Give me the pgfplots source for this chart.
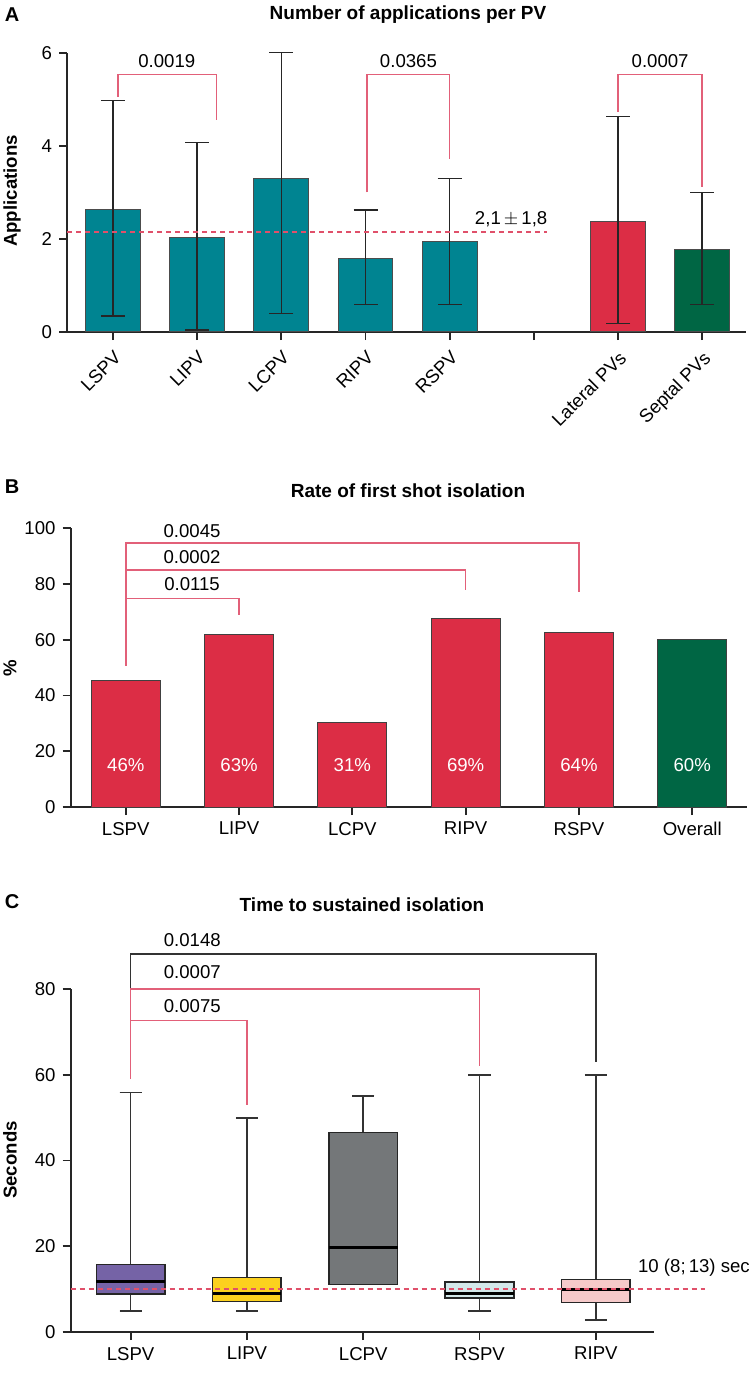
\documentclass[border=0pt]{standalone}
\usepackage{fontspec}
\setmainfont{Liberation Sans}
\usepackage{pgfplots}
\pgfplotsset{compat=1.18}
\usepgfplotslibrary{statistics}
\definecolor{cteal}{HTML}{008491}
\definecolor{cred}{HTML}{DC2D45}
\definecolor{cgreen}{HTML}{006644}
\definecolor{brk}{HTML}{E26079}
\definecolor{dsh}{HTML}{E0506A}
\definecolor{cpurple}{HTML}{7563A6}
\definecolor{cyellow}{HTML}{FCD11E}
\definecolor{cgray}{HTML}{747779}
\definecolor{cblue}{HTML}{D3E8EA}
\definecolor{cpink}{HTML}{F6CACA}
\newcommand{\fs}{\fontsize{9.3}{11}\selectfont}
\begin{document}
\begin{tikzpicture}
\useasboundingbox (0pt,0pt) rectangle (374.5pt,-687pt);
\pgfplotsset{
  panel/.style={scale only axis, axis x line=bottom, axis y line=left,
    axis line style={-, line width=0.9pt, black!85},
    every tick/.style={line width=0.9pt, black!85},
    tick align=outside, major tick length=4pt,
    ticklabel style={font=\fs},
    /pgf/number format/assume math mode=true,
    clip=false, anchor=south west},
  ebar/.style={error bars/.cd, y dir=both, y explicit,
    error bar style={line width=0.75pt, black!85},
    error mark options={rotate=90, mark size=6pt, line width=0.75pt, black!85}},
  bk/.style={brk, line width=0.75pt, no marks, sharp plot},
}
% ---------- Panel A ----------
\node[font=\bfseries\fontsize{10}{12}\selectfont] at (6pt,-7.5pt) {A};
\node[font=\bfseries\fontsize{9.5}{11}\selectfont] at (204pt,-7.5pt) {Number of applications per PV};
\node[font=\bfseries\fs, rotate=90] at (6pt,-95.5pt) {Applications};
\begin{axis}[panel, at={(33.5pt,-166pt)}, width=339.5pt, height=139.5pt,
  xmin=-0.546, xmax=7.52, ymin=0, ymax=6, ytick={0,2,4,6},
  xtick={0,...,7}, xticklabels={LSPV,LIPV,LCPV,RIPV,RSPV,,Lateral PVs,Septal PVs},
  x tick label style={rotate=45, anchor=north east}]
\addplot[ybar, bar width=0.65, bar shift=0pt, fill=cteal, draw=black!70, line width=0.5pt, ebar]
  coordinates {(0,2.64) += (0,2.34) -= (0,2.30)
               (1,2.04) += (0,2.03) -= (0,2.00)
               (2,3.30) += (0,2.71) -= (0,2.90)
               (3,1.59) += (0,1.03) -= (0,1.00)
               (4,1.95) += (0,1.35) -= (0,1.36)};
\addplot[ybar, bar width=0.65, bar shift=0pt, fill=cred, draw=black!70, line width=0.5pt, ebar]
  coordinates {(6,2.37) += (0,2.26) -= (0,2.19)};
\addplot[ybar, bar width=0.65, bar shift=0pt, fill=cgreen, draw=black!70, line width=0.5pt, ebar]
  coordinates {(7,1.78) += (0,1.22) -= (0,1.19)};
\addplot[dsh, line width=0.75pt, dash pattern=on 2.5pt off 2pt, no marks, sharp plot]
  coordinates {(-0.546,2.15) (5.16,2.15)};
\addplot[bk] coordinates {(0.06,5.06) (0.06,5.54) (1.23,5.54) (1.23,4.56)};
\addplot[bk] coordinates {(3.02,3.0) (3.02,5.54) (4.0,5.54) (4.0,3.71)};
\addplot[bk] coordinates {(6.0,4.74) (6.0,5.54) (7.0,5.54) (7.0,3.12)};
\node[font=\fs] at (axis cs:0.64,5.83) {0.0019};
\node[font=\fs] at (axis cs:3.51,5.83) {0.0365};
\node[font=\fs] at (axis cs:6.5,5.83) {0.0007};
\node[font=\fs] at (axis cs:4.73,2.42) {2,1\,$\pm$\,1,8};
\end{axis}
% ---------- Panel B ----------
\node[font=\bfseries\fontsize{10}{12}\selectfont] at (6pt,-243.5pt) {B};
\node[font=\bfseries\fontsize{9.5}{11}\selectfont] at (204pt,-245.5pt) {Rate of first shot isolation};
\node[font=\bfseries\fs, rotate=90] at (5pt,-334pt) {\%};
\begin{axis}[panel, at={(35.3pt,-403.5pt)}, width=338pt, height=139.5pt,
  xmin=-0.487, xmax=5.48, ymin=0, ymax=100, ytick={0,20,...,100},
  xtick={0,...,5}, xticklabels={LSPV,LIPV,LCPV,RIPV,RSPV,Overall}]
\addplot[ybar, bar width=0.61, bar shift=0pt, fill=cred, draw=black!75, line width=0.5pt]
  coordinates {(0,45.3) (1,62.0) (2,30.2) (3,67.4) (4,62.6)};
\addplot[ybar, bar width=0.61, bar shift=0pt, fill=cgreen, draw=black!75, line width=0.5pt]
  coordinates {(5,59.9)};
\addplot[bk] coordinates {(0,50.7) (0,94.7) (4,94.7) (4,77.0)};
\addplot[bk] coordinates {(0,84.9) (3,84.9) (3,77.8)};
\addplot[bk] coordinates {(0,74.7) (1,74.7) (1,68.9)};
\node[font=\fs] at (axis cs:0.585,98.8) {0.0045};
\node[font=\fs] at (axis cs:0.585,89.5) {0.0002};
\node[font=\fs] at (axis cs:0.585,80.0) {0.0115};
\node[font=\fs, text=white] at (axis cs:0,15.2) {46\%};
\node[font=\fs, text=white] at (axis cs:1,15.2) {63\%};
\node[font=\fs, text=white] at (axis cs:2,15.2) {31\%};
\node[font=\fs, text=white] at (axis cs:3,15.2) {69\%};
\node[font=\fs, text=white] at (axis cs:4,15.2) {64\%};
\node[font=\fs, text=white] at (axis cs:5,15.2) {60\%};
\end{axis}
% ---------- Panel C ----------
\node[font=\bfseries\fontsize{10}{12}\selectfont] at (6pt,-451pt) {C};
\node[font=\bfseries\fontsize{9.5}{11}\selectfont] at (181pt,-452.5pt) {Time to sustained isolation};
\node[font=\bfseries\fs, rotate=90] at (5pt,-580pt) {Seconds};
\begin{axis}[panel, at={(35.3pt,-666pt)}, width=291.7pt, height=171.5pt,
  xmin=-0.516, xmax=4.5, ymin=0, ymax=80, ytick={0,20,...,80},
  xtick={0,...,4}, xticklabels={LSPV,LIPV,LCPV,RSPV,RIPV},
  boxplot/draw direction=y,
  boxplot/box extend=0.59, boxplot/whisker extend=0.19,
  boxplot/every median/.style={line width=1.6pt, black},
  boxplot/every whisker/.style={black!80, line width=0.75pt},
  boxplot/every box/.style={draw=black!85, line width=0.75pt}]
\addplot[fill=cpurple, boxplot prepared={draw position=0, lower whisker=4.9, lower quartile=8.9, median=11.8, upper quartile=15.7, upper whisker=55.9}] coordinates {};
\addplot[fill=cyellow, boxplot prepared={draw position=1, lower whisker=4.9, lower quartile=7.1, median=9.0, upper quartile=12.75, upper whisker=49.9}] coordinates {};
\addplot[fill=cgray, boxplot prepared={draw position=2, lower whisker=11.1, lower quartile=11.1, median=19.7, upper quartile=46.5, upper whisker=55.05}] coordinates {};
\addplot[fill=cblue, boxplot prepared={draw position=3, lower whisker=4.9, lower quartile=7.9, median=9.0, upper quartile=11.7, upper whisker=60}] coordinates {};
\addplot[fill=cpink, boxplot prepared={draw position=4, lower whisker=2.8, lower quartile=6.9, median=9.9, upper quartile=12.2, upper whisker=60}] coordinates {};
\addplot[dsh, line width=0.75pt, dash pattern=on 2.5pt off 2pt, no marks, sharp plot]
  coordinates {(-0.516,10) (4.94,10)};
\addplot[black!80, line width=0.75pt, no marks, sharp plot] coordinates {(0,80) (0,88.2) (4,88.2) (4,62.9)};
\addplot[bk] coordinates {(0,59.0) (0,80) (3,80) (3,62.1)};
\addplot[bk] coordinates {(0,72.7) (1,72.7) (1,53.0)};
\node[font=\fs] at (axis cs:0.53,91.3) {0.0148};
\node[font=\fs] at (axis cs:0.53,83.9) {0.0007};
\node[font=\fs] at (axis cs:0.53,76.0) {0.0075};
\node[font=\fs, anchor=west, inner sep=0pt] at (axis cs:4.36,14.9) {10 (8;\,13) sec};
\end{axis}
\end{tikzpicture}
\end{document}
